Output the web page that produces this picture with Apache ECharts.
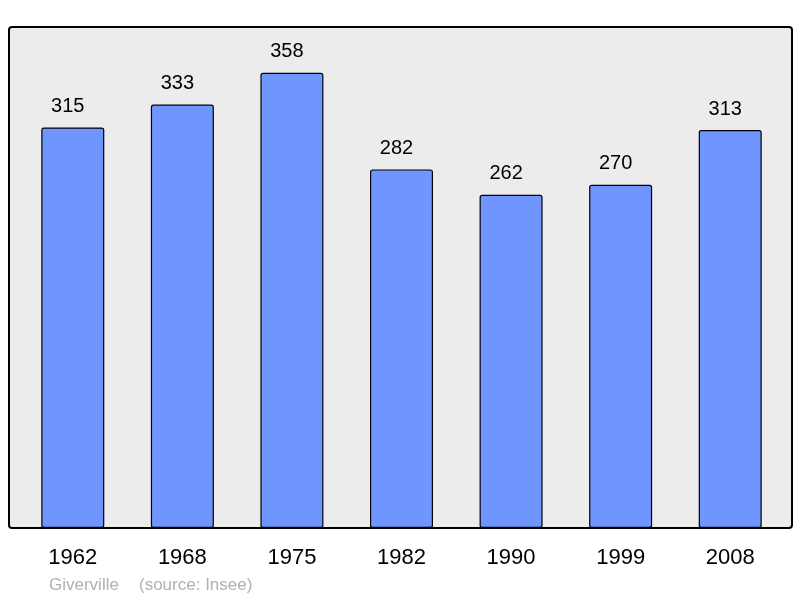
<!DOCTYPE html>
<html><head><meta charset="utf-8">
<script src="https://cdn.jsdelivr.net/npm/echarts@6/dist/echarts.min.js"></script>
<style>html,body{margin:0;padding:0;background:#fff}#c{width:800px;height:598px}</style>
</head><body><div id="c"></div>
<script>
const years = ['1962','1968','1975','1982','1990','1999','2008'];
const population = [315,333,358,282,262,270,313];
const title = 'Giverville';
const source = '(source: Insee)';

const chart = echarts.init(document.getElementById('c'), null, {renderer:'canvas'});
chart.setOption({
  animation:false,
  backgroundColor:'#ffffff',
  grid:{left:18,right:15,top:27,bottom:70},
  xAxis:{type:'category',data:years,
    axisLine:{show:false},axisTick:{show:false},
    axisLabel:{color:'#000',fontSize:22,fontFamily:'Liberation Sans, Arial, sans-serif',margin:19}},
  yAxis:{type:'value',min:0,max:394,show:false,splitLine:{show:false}},
  graphic:[
    {type:'rect',z:-1,shape:{x:9,y:27,width:783,height:501,r:3},
     style:{fill:'#ececec',stroke:'#000',lineWidth:2}},
    {type:'text',left:49,top:577,style:{text:title,fill:'#b0b0b0',fontSize:17,fontFamily:'Liberation Sans, Arial, sans-serif'}},
    {type:'text',left:139,top:577,style:{text:source,fill:'#b0b0b0',fontSize:17,fontFamily:'Liberation Sans, Arial, sans-serif'}}
  ],
  series:[{type:'bar',data:population,barWidth:63,
    itemStyle:{color:'#6f96ff',borderColor:'#000',borderWidth:1.2,borderRadius:2},
    label:{show:true,position:'top',distance:11,offset:[-5,0],color:'#000',fontSize:20,fontFamily:'Liberation Sans, Arial, sans-serif'}}]
});
</script></body></html>
